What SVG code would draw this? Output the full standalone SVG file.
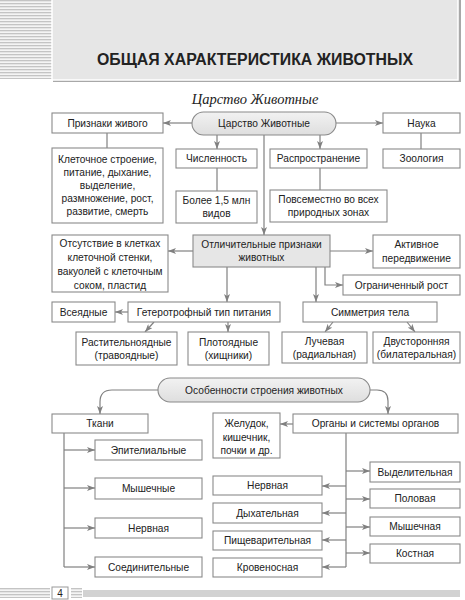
<svg xmlns="http://www.w3.org/2000/svg" width="465" height="600" viewBox="0 0 465 600">
<defs>
<style>
.box{fill:#fff;stroke:#8a8a8a;stroke-width:1.1}
.gbox{fill:#e6e6e6;stroke:#8a8a8a;stroke-width:1.1}
.pill{fill:url(#pg);stroke:#8a8a8a;stroke-width:1.1}
.t{font-family:"Liberation Sans","DejaVu Sans",sans-serif;font-size:10.2px;fill:#222;text-anchor:middle}
.c{fill:none;stroke:#808080;stroke-width:1.2}
.a{marker-end:url(#ah)}
</style>
<linearGradient id="pg" x1="0" y1="0" x2="0" y2="1">
<stop offset="0" stop-color="#f2f2f2"/>
<stop offset="1" stop-color="#dedede"/>
</linearGradient>
<pattern id="stripes" width="4" height="3" patternUnits="userSpaceOnUse">
<rect width="4" height="3" fill="#f4f4f4"/>
<rect width="4" height="1.3" fill="#c4c4c4"/>
</pattern>
<marker id="ah" viewBox="0 0 8 6" refX="8" refY="3" markerWidth="8" markerHeight="6" markerUnits="userSpaceOnUse" orient="auto">
<path d="M0,0 L8,3 L0,6 L2,3 z" fill="#808080"/>
</marker>
</defs>

<g id="header">
<rect x="0" y="0" width="52" height="79" fill="url(#stripes)"/>
<rect x="53" y="-2" width="408" height="84" fill="#a8a8a8"/>
<rect x="52" y="-2" width="406" height="82" fill="#e6e6e6" stroke="#fff" stroke-width="1.5"/>
<text x="255" y="65" font-family="Liberation Sans, Arial, sans-serif" font-weight="bold" font-size="16" fill="#222" text-anchor="middle" textLength="316" lengthAdjust="spacingAndGlyphs">ОБЩАЯ ХАРАКТЕРИСТИКА ЖИВОТНЫХ</text>
<text x="255" y="104" font-family="Liberation Serif, Times New Roman, serif" font-style="italic" font-size="14.5" fill="#222" text-anchor="middle">Царство Животные</text>
</g>

<g id="connectors">
<path class="c a" d="M192,123 H163"/>
<path class="c a" d="M336,123 H383"/>
<path class="c" d="M107,133 V148"/>
<path class="c" d="M421,133 V149"/>
<path class="c a" d="M217,135 V149"/>
<path class="c" d="M217,168 V191"/>
<path class="c a" d="M320,135 V149"/>
<path class="c" d="M320,168 V190"/>
<path class="c a" d="M264,135 V235"/>
<path class="c a" d="M193,251 H168"/>
<path class="c a" d="M330,251 H373"/>
<path class="c a" d="M325,267 V285 H343"/>
<path class="c a" d="M316,267 V302"/>
<path class="c a" d="M227,267 V302"/>
<path class="c a" d="M128,312 H115"/>
<path class="c a" d="M154,322 L145,332"/>
<path class="c a" d="M228,322 V332"/>
<path class="c a" d="M333,322 L325,332"/>
<path class="c a" d="M407,322 L415,332"/>
<path class="c a" d="M158,390 H112 Q100,390 100,402 V414"/>
<path class="c a" d="M370,390 H377 Q388,390 388,401 V414"/>
<path class="c a" d="M293,424 H280"/>
<path class="c" d="M64,433 V567"/>
<path class="c a" d="M64,450 H95"/>
<path class="c a" d="M64,488 H95"/>
<path class="c a" d="M64,528 H95"/>
<path class="c a" d="M64,567 H95"/>
<path class="c" d="M346,433 V567"/>
<path class="c a" d="M346,471 H370"/>
<path class="c a" d="M346,499 H370"/>
<path class="c a" d="M346,527 H370"/>
<path class="c a" d="M346,553 H370"/>
<path class="c a" d="M346,486 H322"/>
<path class="c a" d="M346,513 H322"/>
<path class="c a" d="M346,540 H322"/>
<path class="c a" d="M346,567 H322"/>
</g>

<g id="n_kingdom"><rect class="pill" x="192" y="112" width="144" height="23" rx="11.5"/><text class="t" x="264" y="127">Царство Животные</text></g>
<g id="n_signs"><rect class="box" x="52" y="113" width="111" height="20"/><text class="t" x="107.5" y="127">Признаки живого</text></g>
<g id="n_signs_list"><rect class="box" x="52" y="148" width="111" height="75"/>
<text class="t" x="107.5" y="163">Клеточное строение,</text>
<text class="t" x="107.5" y="176">питание, дыхание,</text>
<text class="t" x="107.5" y="189">выделение,</text>
<text class="t" x="107.5" y="202">размножение, рост,</text>
<text class="t" x="107.5" y="215">развитие, смерть</text></g>
<g id="n_count"><rect class="box" x="176" y="149" width="81" height="19"/><text class="t" x="216.5" y="162">Численность</text></g>
<g id="n_count_val"><rect class="box" x="176" y="191" width="81" height="32"/><text class="t" x="216.5" y="204">Более 1,5 млн</text><text class="t" x="216.5" y="217">видов</text></g>
<g id="n_spread"><rect class="box" x="270" y="149" width="97" height="19"/><text class="t" x="318.5" y="162">Распространение</text></g>
<g id="n_spread_val"><rect class="box" x="270" y="190" width="117" height="32"/><text class="t" x="328.5" y="203">Повсеместно во всех</text><text class="t" x="328.5" y="216">природных зонах</text></g>
<g id="n_science"><rect class="box" x="383" y="113" width="77" height="20"/><text class="t" x="421.5" y="127">Наука</text></g>
<g id="n_zoology"><rect class="box" x="383" y="149" width="77" height="19"/><text class="t" x="421.5" y="162">Зоология</text></g>

<g id="n_distinct"><rect class="gbox" x="193" y="235" width="137" height="32"/><text class="t" x="261.5" y="248">Отличительные признаки</text><text class="t" x="261.5" y="261">животных</text></g>
<g id="n_absence"><rect class="box" x="52" y="235" width="116" height="57"/>
<text class="t" x="110" y="247">Отсутствие в клетках</text>
<text class="t" x="110" y="261">клеточной стенки,</text>
<text class="t" x="110" y="275">вакуолей с клеточным</text>
<text class="t" x="110" y="289">соком, пластид</text></g>
<g id="n_active"><rect class="box" x="373" y="235" width="87" height="33"/><text class="t" x="416.5" y="248">Активное</text><text class="t" x="416.5" y="262">передвижение</text></g>
<g id="n_limited"><rect class="box" x="343" y="275" width="117" height="20"/><text class="t" x="401.5" y="289">Ограниченный рост</text></g>
<g id="n_hetero"><rect class="box" x="128" y="302" width="152" height="20"/><text class="t" x="204" y="316">Гетеротрофный тип питания</text></g>
<g id="n_omni"><rect class="box" x="52" y="302" width="63" height="20"/><text class="t" x="83.5" y="316">Всеядные</text></g>
<g id="n_herb"><rect class="box" x="76" y="332" width="101" height="33"/><text class="t" x="126.5" y="346">Растительноядные</text><text class="t" x="126.5" y="359">(травоядные)</text></g>
<g id="n_carn"><rect class="box" x="188" y="332" width="81" height="33"/><text class="t" x="228.5" y="346">Плотоядные</text><text class="t" x="228.5" y="359">(хищники)</text></g>
<g id="n_symmetry"><rect class="box" x="303" y="302" width="134" height="20"/><text class="t" x="370" y="316">Симметрия тела</text></g>
<g id="n_radial"><rect class="box" x="282" y="332" width="85" height="31"/><text class="t" x="324.5" y="345">Лучевая</text><text class="t" x="324.5" y="358">(радиальная)</text></g>
<g id="n_bilateral"><rect class="box" x="373" y="332" width="87" height="31"/><text class="t" x="416.5" y="345">Двусторонняя</text><text class="t" x="416.5" y="358">(билатеральная)</text></g>

<g id="n_structure"><rect class="pill" x="158" y="378" width="212" height="24" rx="12"/><text class="t" x="264" y="394">Особенности строения животных</text></g>
<g id="n_tissues"><rect class="box" x="52" y="414" width="96" height="19"/><text class="t" x="100" y="427">Ткани</text></g>
<g id="n_organs"><rect class="box" x="293" y="414" width="165" height="19"/><text class="t" x="375.5" y="427">Органы и системы органов</text></g>
<g id="n_stomach"><rect class="box" x="213" y="413" width="67" height="45"/><text class="t" x="246.5" y="427">Желудок,</text><text class="t" x="246.5" y="441">кишечник,</text><text class="t" x="246.5" y="454">почки и др.</text></g>

<g id="n_epith"><rect class="box" x="95" y="440" width="107" height="20"/><text class="t" x="148.5" y="454">Эпителиальные</text></g>
<g id="n_muscle_t"><rect class="box" x="95" y="478" width="107" height="21"/><text class="t" x="148.5" y="492">Мышечные</text></g>
<g id="n_nerve_t"><rect class="box" x="95" y="518" width="107" height="20"/><text class="t" x="148.5" y="532">Нервная</text></g>
<g id="n_conn"><rect class="box" x="95" y="557" width="107" height="20"/><text class="t" x="148.5" y="571">Соединительные</text></g>

<g id="n_nerve_o"><rect class="box" x="213" y="476" width="109" height="19"/><text class="t" x="267.5" y="489">Нервная</text></g>
<g id="n_resp"><rect class="box" x="213" y="503" width="109" height="20"/><text class="t" x="267.5" y="517">Дыхательная</text></g>
<g id="n_digest"><rect class="box" x="213" y="531" width="109" height="19"/><text class="t" x="267.5" y="544">Пищеварительная</text></g>
<g id="n_circ"><rect class="box" x="213" y="558" width="109" height="19"/><text class="t" x="267.5" y="571">Кровеносная</text></g>

<g id="n_excr"><rect class="box" x="370" y="462" width="90" height="20"/><text class="t" x="415" y="476">Выделительная</text></g>
<g id="n_repro"><rect class="box" x="370" y="489" width="90" height="19"/><text class="t" x="415" y="502">Половая</text></g>
<g id="n_muscle_o"><rect class="box" x="370" y="517" width="90" height="19"/><text class="t" x="415" y="530">Мышечная</text></g>
<g id="n_bone"><rect class="box" x="370" y="544" width="90" height="19"/><text class="t" x="415" y="557">Костная</text></g>

<g id="footer">
<rect x="0" y="588" width="50" height="10" fill="url(#stripes)"/>
<rect x="52" y="587" width="16" height="12" fill="#fff" stroke="#999" stroke-width="1"/>
<text x="60" y="597" font-family="Liberation Sans, Arial, sans-serif" font-size="10" fill="#222" text-anchor="middle">4</text>
<rect x="71" y="588" width="11" height="10" fill="url(#stripes)"/>
<rect x="83" y="590" width="377" height="7" fill="#d2d2d2"/>
</g>
</svg>
